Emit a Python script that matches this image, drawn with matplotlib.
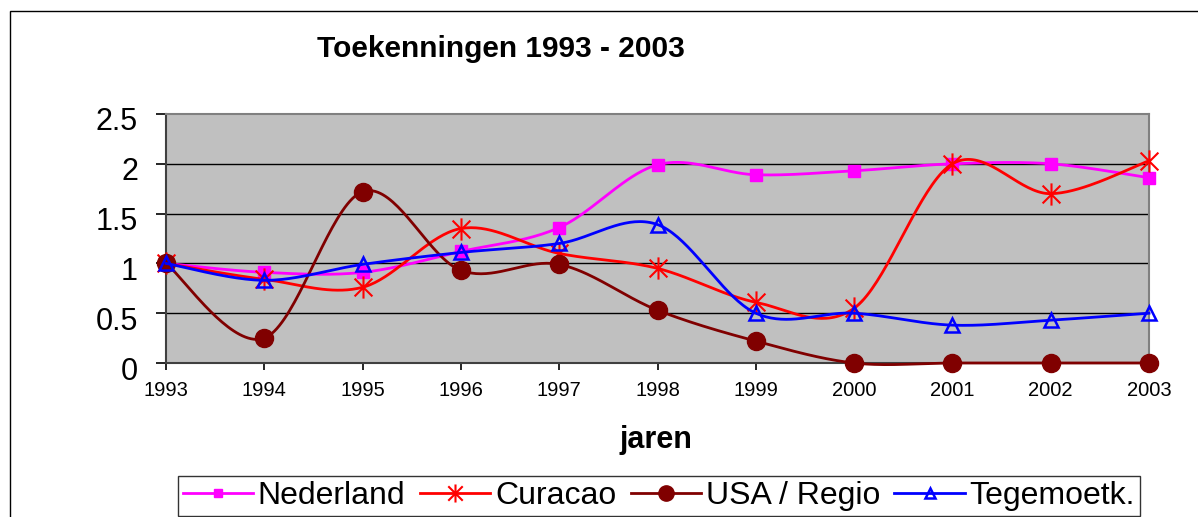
import numpy as np
import matplotlib
matplotlib.use("Agg")
import matplotlib.pyplot as plt
from matplotlib.path import Path
from matplotlib.patches import Rectangle
import matplotlib.transforms as mtransforms

plt.rcParams['font.family'] = ['Liberation Sans', 'DejaVu Sans']

years = [1993, 1994, 1995, 1996, 1997, 1998, 1999, 2000, 2001, 2002, 2003]
nederland = [1.00, 0.91, 0.91, 1.12, 1.36, 1.99, 1.89, 1.93, 2.00, 2.00, 1.86]
curacao = [1.00, 0.84, 0.76, 1.35, 1.10, 0.95, 0.61, 0.55, 2.00, 1.70, 2.03]
usa = [1.00, 0.25, 1.72, 0.93, 0.99, 0.53, 0.22, 0.00, 0.00, 0.00, 0.00]
tegemoet = [1.00, 0.83, 0.99, 1.11, 1.20, 1.39, 0.50, 0.50, 0.38, 0.43, 0.50]
labels = ["Nederland", "Curacao", "USA / Regio", "Tegemoetk."]
yticks = [0, 0.5, 1, 1.5, 2, 2.5]
yticklabels = ["0", "0.5", "1", "1.5", "2", "2.5"]


def smooth(xs, ys, n=40):
    # Excel-like smoothed line (Catmull-Rom as cubic Bezier segments)
    P = np.column_stack([xs, ys]).astype(float)
    out = []
    t = np.linspace(0, 1, n)[:, None]
    for i in range(len(P) - 1):
        p0 = P[i - 1] if i > 0 else P[i]
        p1 = P[i]
        p2 = P[i + 1]
        p3 = P[i + 2] if i + 2 < len(P) else P[i + 1]
        c1 = p1 + (p2 - p0) / 6.0
        c2 = p2 - (p3 - p1) / 6.0
        seg = ((1 - t) ** 3) * p1 + 3 * ((1 - t) ** 2) * t * c1 + 3 * (1 - t) * t ** 2 * c2 + t ** 3 * p2
        out.append(seg if i == 0 else seg[1:])
    arr = np.vstack(out)
    return arr[:, 0], arr[:, 1]


star = Path([(0, -1), (0, 1), (-0.8, -0.8), (0.8, 0.8), (-0.8, 0.8), (0.8, -0.8)],
            [Path.MOVETO, Path.LINETO, Path.MOVETO, Path.LINETO, Path.MOVETO, Path.LINETO])

W, H = 1198, 517
fig = plt.figure(figsize=(W / 100, H / 100), dpi=100)
fig.patch.set_facecolor('white')

# outer chart border
fig.patches.append(Rectangle((10 / W, -0.1), 1.2, 1 - 11 / H + 0.1, transform=fig.transFigure,
                             fill=False, edgecolor='black', linewidth=1.0))

ax = fig.add_axes([166 / W, 1 - 363 / H, (1149 - 166) / W, (363 - 114) / H])
ax.set_facecolor('#C0C0C0')
ax.set_xlim(1993, 2003)
ax.set_ylim(0, 2.5)

for v in [0.5, 1.0, 1.5, 2.0]:
    ax.axhline(v, color='black', linewidth=1.0, zorder=1)

series = [
    (nederland, '#FF00FF', dict(marker='s', markersize=8, markerfacecolor='#FF00FF', markeredgecolor='#FF00FF')),
    (curacao, '#FF0000', dict(marker=star, markersize=16, markerfacecolor='none', markeredgecolor='#FF0000', markeredgewidth=1.5)),
    (usa, '#800000', dict(marker='o', markersize=13, markerfacecolor='#800000', markeredgecolor='#800000')),
    (tegemoet, '#0000FF', dict(marker='^', markersize=9.5, markerfacecolor='none', markeredgecolor='#0000FF', markeredgewidth=1.8)),
]

handles = []
for i, (vals, col, mk) in enumerate(series):
    sx, sy = smooth(years, vals)
    ax.plot(sx, sy, color=col, linewidth=2.0, zorder=3 + i * 2, clip_on=False, solid_joinstyle='round')
    ax.plot(years, vals, linestyle='none', zorder=4 + i * 2, clip_on=False, **mk)
    h, = ax.plot([], [], color=col, linewidth=2.0, **mk)
    handles.append(h)

for s in ['top', 'right']:
    ax.spines[s].set_color('#808080')
    ax.spines[s].set_linewidth(1.5)
for s in ['left', 'bottom']:
    ax.spines[s].set_color('#404040')
    ax.spines[s].set_linewidth(1.5)
    ax.spines[s].set_zorder(2)

ax.set_yticks(yticks)
ax.set_yticklabels(yticklabels)
ax.set_xticks(years)
ax.set_xticklabels([str(y) for y in years])
ax.tick_params(axis='y', direction='out', length=7.2, width=1.2, color='black', labelsize=22, pad=13)
ax.tick_params(axis='x', direction='out', length=5, width=1.2, color='black', labelsize=14.5, pad=8)
off = mtransforms.ScaledTranslation(0, -5 / 100, fig.dpi_scale_trans)
for lab in ax.get_yticklabels():
    lab.set_transform(lab.get_transform() + off)

fig.text(501 / W, 1 - 49 / H, "Toekenningen 1993 - 2003", ha='center', va='center',
         fontsize=21.5, fontweight='bold')
fig.text(656 / W, 1 - 440 / H, "jaren", ha='center', va='center', fontsize=22, fontweight='bold')

leg = fig.legend(handles, labels, loc='upper left', bbox_to_anchor=(178 / W, 1 - 476 / H),
                 ncol=4, frameon=True, fancybox=False, fontsize=23, borderpad=0.15,
                 handlelength=2.2, handletextpad=0.15, columnspacing=0.45, borderaxespad=0)
leg.get_frame().set_edgecolor('black')
leg.get_frame().set_linewidth(1.0)
sizes = [6, 13, 11, 7]
for lh, sz in zip(leg.legend_handles, sizes):
    lh.set_markersize(sz)

fig.savefig('out.png', dpi=100)
